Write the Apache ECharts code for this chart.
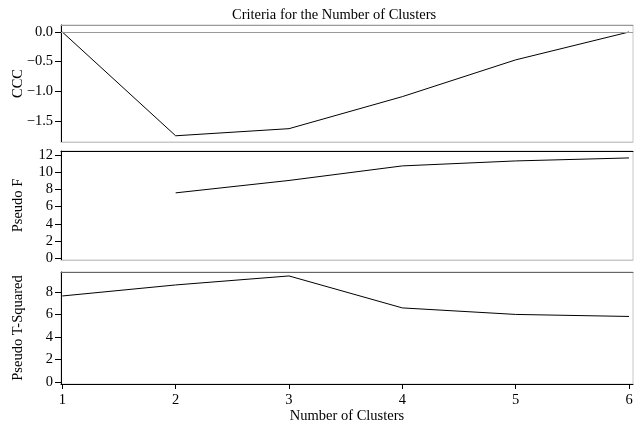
<!DOCTYPE html>
<html>
<head>
<meta charset="utf-8">
<script src="https://cdn.jsdelivr.net/npm/echarts@6/dist/echarts.min.js"></script>
<style>html,body{margin:0;padding:0;background:#fff;}#c{width:642px;height:430px;}</style>
</head>
<body>
<div id="c"></div>
<script>
const clusters = [1, 2, 3, 4, 5, 6];
const ccc = [0.0, -1.75, -1.63, -1.09, -0.47, 0.0];
const pseudoF = [null, 7.61, 9.06, 10.76, 11.34, 11.69];
const pseudoT2 = [7.64, 8.62, 9.42, 6.58, 6.0, 5.82];
const xTicks = [1, 2, 3, 4, 5, 6];
const cccTicks = [-1.5, -1.0, -0.5, 0.0];
const fTicks = [0, 2, 4, 6, 8, 10, 12];
const t2Ticks = [0, 2, 4, 6, 8];

const FONT = 'Liberation Serif';
const FS = 14.5;
const pair = (ys) => clusters.map((x, i) => [x, ys[i]]);
const fmtNeg = (s) => s.replace('-', '\u2212');

const grids = [
  {left: 61, right: 9, top: 25, height: 117},
  {left: 61, right: 9, top: 151, height: 109},
  {left: 61, right: 9, top: 272, height: 112}
].map(g => Object.assign(g, {show: true, containLabel: false, outerBoundsMode: 'none',
  borderColor: '#c8c8c8', borderWidth: 1, backgroundColor: 'transparent'}));

function xAxisFor(i, last) {
  return {
    type: 'value', gridIndex: i, min: 0.9885, max: 6.035,
    splitLine: {show: false},
    axisLine: {show: true, onZero: false, lineStyle: {color: last ? '#000' : '#c8c8c8', width: 1}},
    axisTick: {show: last, customValues: xTicks, length: 5, lineStyle: {color: '#000'}},
    axisLabel: {show: last, customValues: xTicks, margin: 9, fontFamily: FONT, fontSize: FS, color: '#000'},
    name: last ? 'Number of Clusters' : '', nameLocation: 'middle', nameGap: 25, nameMoveOverlap: false,
    nameTextStyle: {fontFamily: FONT, fontSize: FS, color: '#000'}
  };
}
function topAxisFor(i, color) {
  return {
    type: 'value', gridIndex: i, position: 'top', min: 0.9885, max: 6.035,
    splitLine: {show: false}, axisTick: {show: false}, axisLabel: {show: false},
    axisLine: {show: true, onZero: false, lineStyle: {color: color, width: 1}}
  };
}
function yAxisFor(i, name, min, max, ticks, dec) {
  return {
    type: 'value', gridIndex: i, min: min, max: max,
    splitLine: {show: false},
    axisLine: {show: true, onZero: false, lineStyle: {color: '#000', width: 1}},
    axisTick: {show: true, customValues: ticks, length: 6, lineStyle: {color: '#000'}},
    axisLabel: {customValues: ticks, margin: 8, fontFamily: FONT, fontSize: FS, color: '#000',
      formatter: v => fmtNeg(v.toFixed(dec))},
    name: name, nameLocation: 'middle', nameGap: 35, nameRotate: 90, nameMoveOverlap: false,
    nameTextStyle: {fontFamily: FONT, fontSize: FS, color: '#000'}
  };
}

const option = {
  animation: false,
  backgroundColor: '#fff',
  title: {text: 'Criteria for the Number of Clusters', left: 227, top: 3,
    textStyle: {fontFamily: FONT, fontSize: FS, fontWeight: 'normal', color: '#000'}},
  grid: grids,
  xAxis: [xAxisFor(0, false), xAxisFor(1, false), xAxisFor(2, true),
          topAxisFor(0, '#999'), topAxisFor(1, '#000'), topAxisFor(2, '#666')],
  yAxis: [
    yAxisFor(0, 'CCC', -1.855, 0.118, cccTicks, 1),
    yAxisFor(1, 'Pseudo F', -0.23, 12.5, fTicks, 0),
    yAxisFor(2, 'Pseudo T-Squared', -0.18, 9.77, t2Ticks, 0)
  ],
  series: [
    {type: 'line', xAxisIndex: 0, yAxisIndex: 0, data: pair(ccc), symbol: 'none',
      lineStyle: {color: '#000', width: 1},
      markLine: {silent: true, symbol: 'none', label: {show: false},
        lineStyle: {color: '#999', width: 1, type: 'solid'}, data: [{yAxis: 0}]}},
    {type: 'line', xAxisIndex: 1, yAxisIndex: 1, data: pair(pseudoF), symbol: 'none', connectNulls: false,
      lineStyle: {color: '#000', width: 1}},
    {type: 'line', xAxisIndex: 2, yAxisIndex: 2, data: pair(pseudoT2), symbol: 'none',
      lineStyle: {color: '#000', width: 1}}
  ]
};
echarts.init(document.getElementById('c'), null, {renderer: 'canvas'}).setOption(option);
</script>
</body>
</html>
